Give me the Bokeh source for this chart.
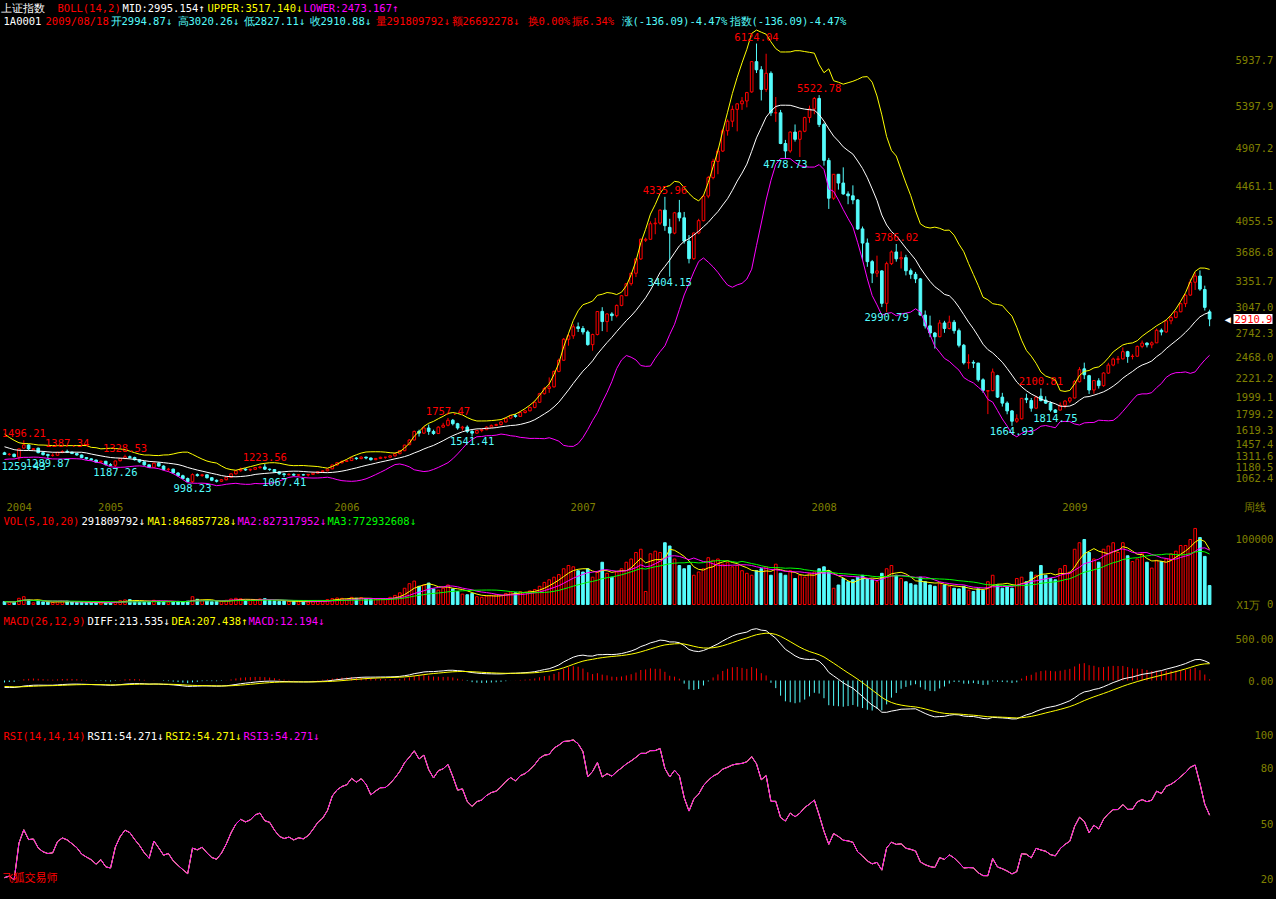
import numpy as np
import pandas as pd
from bokeh.plotting import figure
from bokeh.layouts import column
from bokeh.models import Range1d, FixedTicker, Label, CustomJSTickFormatter
from bokeh.core.properties import value
from bokeh.embed import file_html
from bokeh.resources import INLINE

# ---------------- data (weekly, 上证指数 2004/08 - 2009/08) ----------------
warm_close = [1675, 1675, 1730, 1720, 1700, 1740, 1770, 1760, 1700, 1640, 1595, 1600, 1570,
              1575, 1540, 1500, 1470, 1400, 1430, 1420, 1380, 1395, 1385, 1360, 1370, 1340]

open_ = [1350, 1331, 1334, 1300, 1405, 1442, 1388, 1405, 1352, 1330, 1320, 1322, 1355, 1366, 1358, 1342, 1325, 1295, 1280,
         1266, 1242, 1252, 1212, 1205, 1258, 1285, 1305, 1296, 1270, 1245, 1210, 1181, 1230, 1196, 1155, 1160, 1115, 1083, 1050,
         1013, 1096, 1085, 1094, 1060, 1030, 1018, 1036, 1065, 1105, 1142, 1160, 1150, 1158, 1178, 1185, 1160, 1155, 1128, 1105,
         1096, 1100, 1090, 1095, 1092, 1099, 1113, 1130, 1140,
         1163, 1209, 1235, 1250, 1260, 1290, 1283, 1300, 1290, 1270, 1285, 1298, 1299, 1315, 1340, 1375, 1445, 1500, 1600, 1580,
         1640, 1600, 1575, 1650, 1672, 1730, 1690, 1640, 1650, 1600, 1580, 1610, 1620, 1650, 1670, 1680, 1710, 1755, 1785, 1775,
         1820, 1840, 1880, 1940, 2040, 2100, 2120, 2300, 2430,
         2675, 2715, 2820, 2800, 2760, 2612, 2730, 3000, 2881, 2970, 2950, 3070, 3183, 3323, 3445, 3612, 3830, 3841, 4022, 4030,
         4181, 3980, 3913, 4150, 4091, 3820, 3615, 3914, 4058, 4345, 4560, 4749, 4870, 5107, 5218, 5356, 5421, 5454, 5560, 5913,
         5818, 5589, 5777, 5316, 5316, 4958, 4871, 5091, 5007, 5101,
         5262, 5361, 5484, 5180, 4761, 4320, 4599, 4497, 4370, 4348, 4300, 3962, 3797, 3580, 3446, 3472, 3094, 3557, 3693, 3613,
         3627, 3474, 3433, 3379, 2957, 2831, 2748, 2704, 2865, 2801, 2874, 2775, 2605, 2400, 2405, 2397, 2202, 2070, 2075, 2250,
         2000, 1930, 1839, 1719, 1747, 1986, 1960, 1871, 2010, 1965, 1930, 1850,
         1849, 1904, 1954, 1990, 2180, 2330, 2250, 2083, 2190, 2134, 2280, 2374, 2440, 2446, 2530, 2474, 2477, 2592, 2630, 2610,
         2633, 2780, 2760, 2890, 2930, 2995, 3090, 3190, 3340, 3412, 3255, 2994.87]
high = [1362, 1348, 1342, 1402, 1496.21, 1450, 1405, 1410, 1362, 1340, 1345, 1362, 1380, 1387.34, 1362, 1346, 1330, 1300, 1285,
        1270, 1260, 1256, 1230, 1260, 1290, 1328.53, 1318, 1305, 1278, 1250, 1215, 1240, 1245, 1205, 1175, 1165, 1125, 1095, 1062,
        1110, 1110, 1105, 1100, 1065, 1040, 1045, 1070, 1110, 1145, 1178, 1170, 1165, 1185, 1200, 1223.56, 1165, 1160, 1135, 1115,
        1110, 1110, 1100, 1105, 1100, 1118, 1135, 1145, 1165,
        1210, 1240, 1260, 1265, 1300, 1300, 1310, 1305, 1295, 1290, 1305, 1302, 1320, 1350, 1380, 1445, 1510, 1610, 1620, 1660,
        1680, 1620, 1660, 1700, 1757.47, 1745, 1700, 1665, 1670, 1615, 1620, 1630, 1660, 1680, 1690, 1720, 1760, 1790, 1805, 1830,
        1850, 1890, 1950, 2050, 2120, 2230, 2310, 2450, 2690,
        2745, 2850, 2870, 2830, 2780, 2740, 3000, 3049, 2980, 2990, 3080, 3190, 3330, 3450, 3620, 3850, 3860, 4050, 4090, 4190,
        4335.96, 4080, 4160, 4300, 4160, 3890, 3920, 4080, 4360, 4580, 4780, 4900, 5130, 5240, 5400, 5430, 5500, 5560, 5920, 6124.04,
        5860, 6005, 5800, 5500, 5350, 5000, 5100, 5180, 5110, 5270,
        5400, 5500, 5522.78, 5200, 4790, 4600, 4600, 4680, 4400, 4470, 4310, 3990, 3850, 3600, 3650, 3480, 3580, 3710, 3786.02, 3700,
        3660, 3500, 3460, 3390, 3010, 2950, 2760, 2900, 2890, 2950, 2900, 2800, 2620, 2500, 2430, 2400, 2220, 2080, 2333, 2260,
        2050, 1950, 1850, 1800, 1990, 2040, 1990, 2015, 2100.81, 2010, 1950, 1860,
        1938, 1966, 2000, 2200, 2350, 2402, 2260, 2200, 2220, 2290, 2400, 2460, 2480, 2580, 2540, 2500, 2600, 2660, 2640, 2650,
        2800, 2800, 2900, 2950, 3000, 3100, 3200, 3380, 3455, 3478, 3300, 3020.26]
low = [1325, 1318, 1298, 1259.43, 1395, 1380, 1383, 1345, 1318, 1289.87, 1305, 1315, 1345, 1348, 1335, 1318, 1288, 1272, 1259,
       1238, 1232, 1205, 1195, 1187.26, 1250, 1275, 1285, 1260, 1235, 1200, 1175, 1178, 1190, 1145, 1135, 1110, 1075, 1045, 1010,
       998.23, 1072, 1070, 1050, 1020, 1005, 1010, 1030, 1060, 1098, 1130, 1140, 1135, 1150, 1165, 1150, 1140, 1120, 1095, 1067.41,
       1085, 1080, 1075, 1085, 1074, 1092, 1108, 1115, 1135,
       1160, 1200, 1225, 1245, 1255, 1268, 1275, 1275, 1260, 1265, 1280, 1280, 1295, 1305, 1335, 1370, 1440, 1495, 1540, 1570,
       1560, 1560, 1570, 1640, 1660, 1670, 1620, 1610, 1580, 1541.41, 1570, 1590, 1615, 1640, 1660, 1670, 1705, 1750, 1760, 1770,
       1810, 1835, 1870, 1935, 2030, 2050, 2110, 2290, 2425,
       2600, 2680, 2760, 2730, 2600, 2541, 2720, 2770, 2760, 2890, 2930, 3060, 3180, 3300, 3400, 3600, 3810, 3840, 3900, 4010,
       3940, 3404.15, 3900, 4050, 3790, 3560, 3600, 3900, 4050, 4320, 4540, 4600, 4860, 5050, 5150, 5100, 5350, 5380, 5550, 5780,
       5460, 5560, 5280, 5210, 4950, 4778.73, 4850, 4980, 4800, 5090,
       5200, 5300, 5150, 4700, 4195, 4300, 4420, 4360, 4250, 4250, 3950, 3600, 3520, 3330, 3400, 3050, 2990.79, 3540, 3580, 3500,
       3420, 3380, 3330, 2950, 2800, 2700, 2566, 2700, 2750, 2790, 2740, 2580, 2380, 2330, 2340, 2180, 2050, 1802, 2070, 1990,
       1890, 1800, 1664.93, 1700, 1740, 1930, 1830, 1860, 1950, 1920, 1830, 1814.75,
       1844, 1870, 1930, 1985, 2170, 2210, 2037, 2040, 2100, 2120, 2270, 2360, 2390, 2440, 2400, 2440, 2470, 2570, 2580, 2570,
       2630, 2720, 2750, 2850, 2920, 2990, 3050, 3180, 3250, 3240, 3010, 2827.11]
close = [1331, 1334, 1306, 1396, 1442, 1396, 1398, 1352, 1330, 1320, 1322, 1355, 1366, 1358, 1342, 1325, 1295, 1280, 1266,
         1242, 1252, 1212, 1205, 1255, 1285, 1305, 1296, 1270, 1245, 1210, 1181, 1230, 1196, 1155, 1160, 1115, 1083, 1050, 1015,
         1096, 1085, 1094, 1060, 1030, 1018, 1036, 1065, 1105, 1140, 1160, 1150, 1158, 1178, 1185, 1160, 1155, 1128, 1105, 1096,
         1100, 1090, 1095, 1092, 1099, 1113, 1130, 1140, 1161,
         1209, 1235, 1250, 1258, 1290, 1283, 1300, 1290, 1270, 1285, 1298, 1299, 1315, 1340, 1375, 1440, 1500, 1600, 1580, 1640,
         1600, 1575, 1650, 1672, 1730, 1690, 1640, 1650, 1600, 1580, 1610, 1620, 1650, 1670, 1680, 1710, 1752, 1785, 1775, 1820,
         1840, 1880, 1940, 2040, 2100, 2120, 2300, 2430, 2675,
         2715, 2820, 2800, 2760, 2612, 2730, 2998, 2881, 2970, 2950, 3070, 3183, 3323, 3445, 3612, 3841, 3841, 4022, 4030, 4181,
         4000, 3913, 4150, 4091, 3820, 3615, 3914, 4058, 4345, 4560, 4749, 4870, 5107, 5218, 5356, 5421, 5454, 5552, 5913, 5818,
         5589, 5777, 5316, 5316, 4958, 4871, 5091, 5007, 5101, 5261,
         5361, 5484, 5180, 4761, 4320, 4599, 4497, 4370, 4348, 4300, 3962, 3797, 3580, 3446, 3472, 3094, 3557, 3693, 3613, 3627,
         3474, 3433, 3379, 2957, 2831, 2748, 2704, 2865, 2801, 2874, 2775, 2605, 2400, 2405, 2397, 2202, 2079, 2075, 2293, 2000,
         1930, 1839, 1719, 1747, 1986, 1970, 1871, 2001, 1960, 1930, 1850, 1821,
         1904, 1954, 1990, 2181, 2320, 2261, 2083, 2193, 2134, 2281, 2374, 2444, 2446, 2530, 2474, 2477, 2592, 2630, 2610, 2633,
         2780, 2760, 2890, 2930, 2995, 3090, 3189, 3340, 3412, 3260, 3047, 2910.88]
# volume in 万手
volume = [4500, 3800, 3500, 9500, 12000, 7000, 2500, 5200, 4000, 3600, 3300, 4200, 4800, 5000, 3800, 3200, 3000, 2800, 2600,
          2800, 2600, 3000, 2900, 4500, 6000, 7000, 7500, 5500, 4500, 4200, 4800, 6500, 5000, 4500, 4000, 4200, 4800, 4000, 5200,
          12000, 8000, 6500, 5500, 4200, 4500, 5000, 6500, 8500, 9500, 8800, 6500, 6000, 7500, 8500, 9000, 6000, 5500, 4800, 5200,
          5000, 4500, 4200, 4400, 4000, 4800, 5500, 6000, 7500,
          9000, 10000, 9500, 8000, 11000, 9500, 10500, 9000, 7500, 8000, 9000, 8500, 11000, 14000, 18000, 25000, 32000, 36000,
          28000, 30000, 33000, 24000, 22000, 25000, 30000, 24000, 20000, 16000, 15000, 17000, 12000, 11000, 13000, 14000, 15000,
          14000, 17000, 19000, 18000, 20000, 19000, 21000, 23000, 28000, 34000, 38000, 42000, 46000, 55000,
          60000, 58000, 52000, 50000, 55000, 42000, 50000, 65000, 48000, 42000, 50000, 55000, 65000, 70000, 80000, 85000, 20000,
          78000, 82000, 80000, 95000, 90000, 70000, 60000, 55000, 60000, 45000, 50000, 55000, 72000, 68000, 70000, 62000, 65000,
          58000, 60000, 52000, 48000, 45000, 52000, 55000, 58000, 45000, 62000, 48000, 45000, 52000, 40000, 45000, 42000,
          48000, 50000, 55000, 58000, 52000, 25000, 30000, 40000, 35000, 38000, 42000, 45000, 40000, 38000, 35000, 48000, 55000,
          60000, 45000, 40000, 35000, 32000, 30000, 42000, 35000, 30000, 28000, 32000, 30000, 28000, 25000, 24000, 28000, 22000,
          20000, 24000, 22000, 35000, 45000, 30000, 25000, 28000, 25000, 40000, 42000, 35000, 50000, 45000, 60000, 45000, 40000,
          38000,
          55000, 60000, 50000, 85000, 95000, 100000, 80000, 70000, 65000, 85000, 90000, 95000, 80000, 95000, 75000, 66000, 70000,
          78000, 65000, 56000, 68000, 66000, 70000, 78000, 82000, 90769, 90769, 100000, 117000, 103000, 74000, 29181]

year_idx = [0, 19, 68, 117, 167, 219]
year_txt = ["2004", "2005", "2006", "2007", "2008", "2009"]

ext_idx = [4, 13, 25, 54, 92, 137, 156, 169, 185, 215, 3, 9, 23, 39, 58, 97, 138, 162, 183, 209, 218]
ext_val = [1496.21, 1387.34, 1328.53, 1223.56, 1757.47, 4335.96, 6124.04, 5522.78, 3786.02, 2100.81,
           1259.43, 1289.87, 1187.26, 998.23, 1067.41, 1541.41, 3404.15, 4778.73, 2990.79, 1664.93, 1814.75]
ext_high = [True] * 10 + [False] * 11

price_ticks = [5937.7, 5397.9, 4907.2, 4461.1, 4055.5, 3686.8, 3351.7, 3047.0, 2742.3, 2468.0, 2221.2,
               1999.1, 1799.2, 1619.3, 1457.4, 1311.6, 1180.5, 1062.4]
vol_ticks = [0, 100000]
macd_ticks = [0, 500]
rsi_ticks = [20, 50, 80, 100]

# ---------------- indicators ----------------
n = len(close)
o = np.array(open_, float); h = np.array(high, float); l = np.array(low, float); c = np.array(close, float)
v = np.array(volume, float)
idx = np.arange(n)
nw = len(warm_close)
s = pd.Series(list(map(float, warm_close)) + list(c))
mid = s.rolling(14, min_periods=1).mean()
sd = s.rolling(14, min_periods=2).std(ddof=1).fillna(0)
upper = (mid + 2 * sd).values[nw:]
lower = (mid - 2 * sd).values[nw:]
mid = mid.values[nw:]
ema12 = s.ewm(span=12, adjust=False).mean()
ema26 = s.ewm(span=26, adjust=False).mean()
diff = ema12 - ema26
dea = diff.ewm(span=9, adjust=False).mean()
macd = (2 * (diff - dea)).values[nw:]
diff = diff.values[nw:]; dea = dea.values[nw:]
d = s.diff().fillna(0)
up_s = d.clip(lower=0).ewm(alpha=1 / 14, adjust=False).mean()
ab_s = d.abs().ewm(alpha=1 / 14, adjust=False).mean()
rsi = (100 * up_s / ab_s.replace(0, np.nan)).fillna(50).values[nw:]
vs = pd.Series(v)
ma1 = vs.rolling(5, min_periods=1).mean().values
ma2 = vs.rolling(10, min_periods=1).mean().values
ma3 = vs.rolling(20, min_periods=1).mean().values

# ---------------- styling ----------------
RED, CYAN, WHITE, YELLOW, MAGENTA, GREEN, OLIVE = "#FF0000", "#54FCFC", "#FFFFFF", "#FFFF00", "#FF00FF", "#00FF00", "#808000"
FONT = "DejaVu Sans Mono"
FS = "10.5px"
CHW = 6.32  # char width of FONT at FS
W = 1276
RB = 2                     # right border; the value axis is drawn over the frame's right strip
FW = W - RB
PXI = 4.828                # pixels per weekly bar
XR = Range1d(-0.83, -0.83 + FW / PXI)
HEIGHTS = [513, 99, 116, 171]

up = c >= o
col = np.where(up, RED, CYAN)
fillc = np.where(up, "black", CYAN)
NB = "\u00a0"


def mk_fig(hh, yr, ticks, code):
    p = figure(width=W, height=hh, x_range=XR, y_range=yr, output_backend="svg", toolbar_location=None,
               y_axis_location="right", x_axis_location=None, background_fill_color="black",
               border_fill_color="black", outline_line_color=None,
               min_border_left=0, min_border_right=RB, min_border_top=0, min_border_bottom=0)
    p.grid.visible = False
    ax = p.yaxis[0]
    ax.ticker = FixedTicker(ticks=ticks)
    ax.formatter = CustomJSTickFormatter(code=code)
    ax.axis_line_color = None
    ax.major_tick_line_color = None
    ax.minor_tick_line_color = None
    ax.major_tick_out = 0
    ax.major_tick_in = 0
    ax.minor_tick_out = 0
    ax.minor_tick_in = 0
    ax.major_label_text_color = OLIVE
    ax.major_label_text_font = FONT
    ax.major_label_text_font_size = FS
    ax.major_label_standoff = -37
    return p


def lab(p, x, y, txt, colr, xu="screen", yu="screen", **kw):
    p.add_layout(Label(x=x, y=y, x_units=xu, y_units=yu, text=txt, text_color=colr, text_font=FONT,
                       text_font_size=FS, text_baseline="middle", **kw))


def hdr(p, hh, segs, yloc):
    for xr, txt, colr in segs:
        lab(p, xr, hh - yloc, txt, colr)


PAD = "padStart(6, '" + NB + "')"

# ---- main ----
h0 = HEIGHTS[0]
p1 = mk_fig(h0, Range1d(642.6, 6626.0), price_ticks, "return tick.toFixed(1)." + PAD + ";")
p1.segment(x0=idx, y0=l, x1=idx, y1=h, line_color=col, line_width=1)
p1.vbar(x=idx, width=0.55, top=np.maximum(o, c), bottom=np.minimum(o, c), fill_color=fillc, line_color=col, line_width=1)
p1.line(idx, upper, line_color=YELLOW, line_width=1)
p1.line(idx, lower, line_color=MAGENTA, line_width=1)
p1.line(idx, mid, line_color=WHITE, line_width=1)
ev = np.array(ext_val); eh = np.array(ext_high)
etxt = np.array(["%.2f" % x for x in ev])
# keep every extreme label fully inside the plot frame
ex = np.maximum(np.array(ext_idx, float), XR.start + (np.array([len(t) for t in etxt]) * CHW / 2 + 1) / PXI)
p1.text(x=ex[eh], y=ev[eh], text=etxt[eh], text_color=RED,
        text_font=value(FONT), text_font_size=FS, text_align="center", text_baseline="bottom", y_offset=-3)
p1.text(x=ex[~eh], y=ev[~eh], text=etxt[~eh], text_color=CYAN,
        text_font=value(FONT), text_font_size=FS, text_align="center", text_baseline="top", y_offset=1)
hdr(p1, h0, [(0, "上证指数", WHITE), (57, "BOLL(14,2)", RED), (122, "MID:2995.154↑", WHITE),
             (207, "UPPER:3517.140↓", YELLOW), (303, "LOWER:2473.167↑", MAGENTA)], 7)
hdr(p1, h0, [(3, "1A0001", WHITE), (45, "2009/08/18", RED), (110, "开2994.87↓", CYAN), (177, "高3020.26↓", CYAN),
             (243, "低2827.11↓", CYAN), (309, "收2910.88↓", CYAN), (375, "量291809792↓", RED),
             (451, "额26692278↓", RED), (527, "换0.00%", RED), (571, "振6.34%", RED),
             (621, "涨(-136.09)-4.47%", CYAN), (729, "指数(-136.09)-4.47%", CYAN)], 20.5)
for yi, yt in zip(year_idx, year_txt):
    lab(p1, yi, 7, yt, OLIVE, xu="data", x_offset=2)
lab(p1, 1243, 7, "周线", OLIVE)
lab(p1, 1233, c[-1], "%.1f" % c[-1], RED, yu="data", background_fill_color=WHITE, padding=1)
lab(p1, 1224, c[-1], "◀", WHITE, yu="data")

# ---- volume ----
h1 = HEIGHTS[1]
p2 = mk_fig(h1, Range1d(-12308, 140000), vol_ticks, "return String(tick)." + PAD + ";")
p2.vbar(x=idx, width=0.55, top=v, bottom=0, fill_color=fillc, line_color=col, line_width=1)
p2.line(idx, ma1, line_color=YELLOW, line_width=1)
p2.line(idx, ma2, line_color=MAGENTA, line_width=1)
p2.line(idx, ma3, line_color=GREEN, line_width=1)
hdr(p2, h1, [(3, "VOL(5,10,20)", RED), (81, "291809792↓", WHITE), (147, "MA1:846857728↓", YELLOW),
             (237, "MA2:827317952↓", MAGENTA), (327, "MA3:772932608↓", GREEN)], 7)
lab(p2, 1236, 8, "X1万", OLIVE)

# ---- MACD ----
h2 = HEIGHTS[2]
p3 = mk_fig(h2, Range1d(-585, 829), macd_ticks, "return tick.toFixed(2)." + PAD + ";")
p3.segment(x0=idx, y0=np.zeros(n), x1=idx, y1=macd, line_color=np.where(macd >= 0, RED, CYAN), line_width=1)
p3.line(idx, diff, line_color=WHITE, line_width=1)
p3.line(idx, dea, line_color=YELLOW, line_width=1)
hdr(p3, h2, [(3, "MACD(26,12,9)", RED), (87, "DIFF:213.535↓", WHITE), (171, "DEA:207.438↑", YELLOW),
             (248, "MACD:12.194↓", MAGENTA)], 8)

# ---- RSI ----
h3 = HEIGHTS[3]
p4 = mk_fig(h3, Range1d(8.9, 101.4), rsi_ticks, "return tick.toFixed(0)." + PAD + ";")
p4.line(idx, rsi, line_color=WHITE, line_width=1)
p4.line(idx, rsi, line_color=YELLOW, line_width=1)
p4.line(idx, rsi, line_color=MAGENTA, line_width=1)
hdr(p4, h3, [(3, "RSI(14,14,14)", RED), (87, "RSI1:54.271↓", WHITE), (165, "RSI2:54.271↓", YELLOW),
             (243, "RSI3:54.271↓", MAGENTA)], 7)
p4.add_layout(Label(x=2, y=23, x_units="screen", y_units="screen", text="飞狐交易师",
                    text_color=RED, text_font="Noto Sans CJK SC", text_font_size="11px", text_baseline="middle"))

layout = column(p1, p2, p3, p4, spacing=0)
PAGE = "{% block postamble %}<style>html, body { background: #000000; }</style>{% endblock %}"
open("out.html", "w", encoding="utf-8").write(file_html(layout, INLINE, title="上证指数", template=PAGE))
